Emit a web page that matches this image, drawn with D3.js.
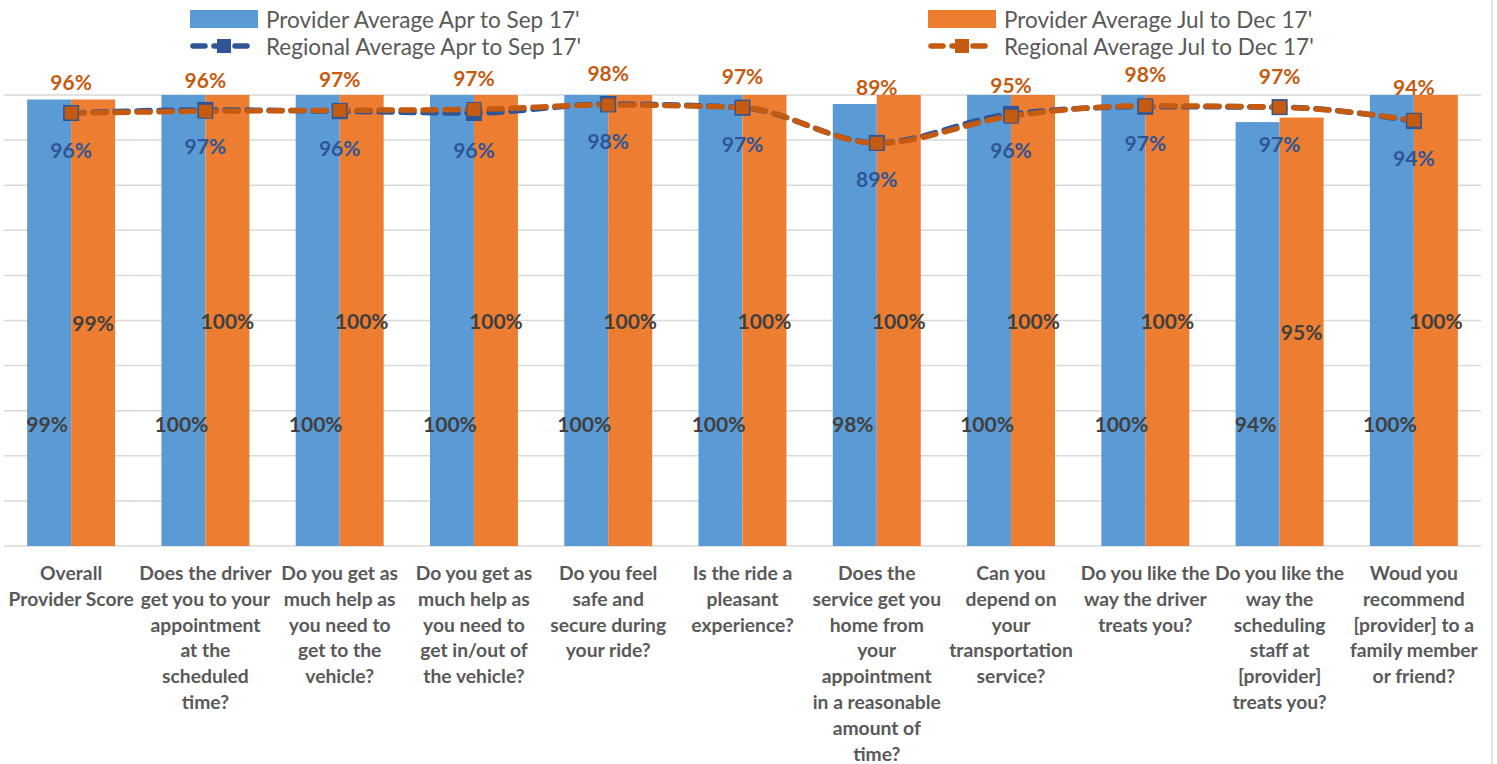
<!DOCTYPE html>
<html><head><meta charset="utf-8">
<script src="https://cdn.jsdelivr.net/npm/d3@7"></script>
<style>body{margin:0;background:#fff}svg{display:block}text{font-family:Lato,"Open Sans",sans-serif}</style>
</head><body><svg id="c" width="1497" height="764"></svg>
<script>
const categoryLines = [
  ["Overall","Provider Score"],
  ["Does the driver","get you to your","appointment","at the","scheduled","time?"],
  ["Do you get as","much help as","you need to","get to the","vehicle?"],
  ["Do you get as","much help as","you need to","get in/out of","the vehicle?"],
  ["Do you feel","safe and","secure during","your ride?"],
  ["Is the ride a","pleasant","experience?"],
  ["Does the","service get you","home from","your","appointment","in a reasonable","amount of","time?"],
  ["Can you","depend on","your","transportation","service?"],
  ["Do you like the","way the driver","treats you?"],
  ["Do you like the","way the","scheduling","staff at","[provider]","treats you?"],
  ["Woud you","recommend","[provider] to a","family member","or friend?"]
];
const categories = categoryLines.map(l => l.join(" "));
const providerAprSep = [99,100,100,100,100,100,98,100,100,94,100];
const providerJulDec = [99,100,100,100,100,100,100,100,100,95,100];
const regionalAprSep = [96.0,96.7,96.4,96.0,98.0,97.2,89.4,95.8,97.4,97.3,94.2];
const regionalJulDec = [96.0,96.4,96.6,96.8,97.8,97.2,89.3,95.3,97.6,97.3,94.4];
const seriesNames = ["Provider Average Apr to Sep 17'","Regional Average Apr to Sep 17'","Provider Average Jul to Dec 17'","Regional Average Jul to Dec 17'"];
const yTicks = [0,10,20,30,40,50,60,70,80,90,100];

const C = {blue:"#5B9BD5", orange:"#ED7D31", dblue:"#2F5597", dorange:"#C55A11", grid:"#D9D9D9", label:"#404040", axis:"#595959"};
const svg = d3.select("#c");
const x = d3.scaleBand().domain(categories).range([4,1481]).paddingInner(0.345).paddingOuter(0.1725);
const xs = d3.scaleBand().domain(["a","b"]).range([0,x.bandwidth()]);
const y = d3.scaleLinear().domain([0,100]).range([546,95]);
const fmt = v => Math.round(v) + "%";

// right border
svg.append("line").attr("x1",1492).attr("x2",1492).attr("y1",0).attr("y2",764).attr("stroke",C.grid).attr("stroke-width",1.5);

// gridlines
svg.append("g").selectAll("line").data(yTicks).join("line")
  .attr("x1",4).attr("x2",1481).attr("y1",d=>y(d)).attr("y2",d=>y(d))
  .attr("stroke",C.grid).attr("stroke-width",1.5);

// bars
const g = svg.append("g");
g.selectAll(".b1").data(providerAprSep).join("rect")
  .attr("x",(d,i)=>x(categories[i])+xs("a")).attr("width",xs.bandwidth())
  .attr("y",d=>y(d)).attr("height",d=>y(0)-y(d)).attr("fill",C.blue);
g.selectAll(".b2").data(providerJulDec).join("rect")
  .attr("x",(d,i)=>x(categories[i])+xs("b")).attr("width",xs.bandwidth())
  .attr("y",d=>y(d)).attr("height",d=>y(0)-y(d)).attr("fill",C.orange);

const LF = 21;
// bar labels
g.selectAll(".l1").data(providerAprSep).join("text")
  .attr("x",(d,i)=>x(categories[i])+xs("a")+xs.bandwidth()/2 - 2).attr("y",y(27.2))
  .attr("text-anchor","middle").attr("dominant-baseline","central")
  .attr("font-size",LF).attr("font-weight","bold").attr("fill",C.label).text(fmt);
g.selectAll(".l2").data(providerJulDec).join("text")
  .attr("x",(d,i)=>x(categories[i])+xs("b")+xs.bandwidth()/2).attr("y",d=>(y(d)+y(0))/2)
  .attr("text-anchor","middle").attr("dominant-baseline","central")
  .attr("font-size",LF).attr("font-weight","bold").attr("fill",C.label).text(fmt);

// lines
const cx = i => x(categories[i]) + x.bandwidth()/2;
const line = d3.line().x((d,i)=>cx(i)).y(d=>y(d)).curve(d3.curveMonotoneX);
function drawLine(vals, color, ms){
  svg.append("path").attr("d",line(vals)).attr("fill","none").attr("stroke",color)
    .attr("stroke-width",5.5).attr("stroke-dasharray","13 9").attr("stroke-linecap","round");
  svg.append("g").selectAll("rect").data(vals).join("rect")
    .attr("x",(d,i)=>cx(i)-ms/2).attr("y",d=>y(d)-ms/2).attr("width",ms).attr("height",ms)
    .attr("fill",color).attr("stroke",C.dblue).attr("stroke-width",1);
}
drawLine(regionalAprSep, C.dblue, 15);
drawLine(regionalJulDec, C.dorange, 14);

// line labels
svg.append("g").selectAll("text").data(regionalAprSep).join("text")
  .attr("x",(d,i)=>cx(i)).attr("y",d=>y(d)+36).attr("text-anchor","middle").attr("dominant-baseline","central")
  .attr("font-size",LF).attr("font-weight","bold").attr("fill",C.dblue).text(fmt);
svg.append("g").selectAll("text").data(regionalJulDec).join("text")
  .attr("x",(d,i)=>cx(i)).attr("y",d=>Math.min(y(d)-32, 86)).attr("text-anchor","middle").attr("dominant-baseline","central")
  .attr("font-size",LF).attr("font-weight","bold").attr("fill",C.dorange).text(fmt);

// category labels
const ax = svg.append("g");
categoryLines.forEach((lines,i)=>{
  const t = ax.append("text").attr("x",cx(i)).attr("y",580).attr("text-anchor","middle")
    .attr("font-size",19.3).attr("font-weight","bold").attr("fill",C.axis);
  lines.forEach((s,j)=>t.append("tspan").attr("x",cx(i)).attr("y",580+j*25.8).text(s));
});

// legend
const leg = [
  {name:seriesNames[0], type:"bar", color:C.blue, x:190, y:19},
  {name:seriesNames[1], type:"line", color:C.dblue, x:190, y:46},
  {name:seriesNames[2], type:"bar", color:C.orange, x:928, y:19},
  {name:seriesNames[3], type:"line", color:C.dorange, x:928, y:46}
];
const lg = svg.append("g");
leg.forEach(d=>{
  if(d.type==="bar"){
    lg.append("rect").attr("x",d.x).attr("y",d.y-9).attr("width",68).attr("height",18).attr("fill",d.color);
  } else {
    lg.append("line").attr("x1",d.x+3).attr("x2",d.x+65).attr("y1",d.y).attr("y2",d.y)
      .attr("stroke",d.color).attr("stroke-width",5.5).attr("stroke-dasharray","12 9").attr("stroke-linecap","round");
    lg.append("rect").attr("x",d.x+34-7).attr("y",d.y-7).attr("width",14).attr("height",14).attr("fill",d.color);
  }
  lg.append("text").attr("x",d.x+76).attr("y",d.y).attr("dominant-baseline","central")
    .attr("font-size",22.5).attr("fill",C.axis).text(d.name);
});
</script></body></html>
